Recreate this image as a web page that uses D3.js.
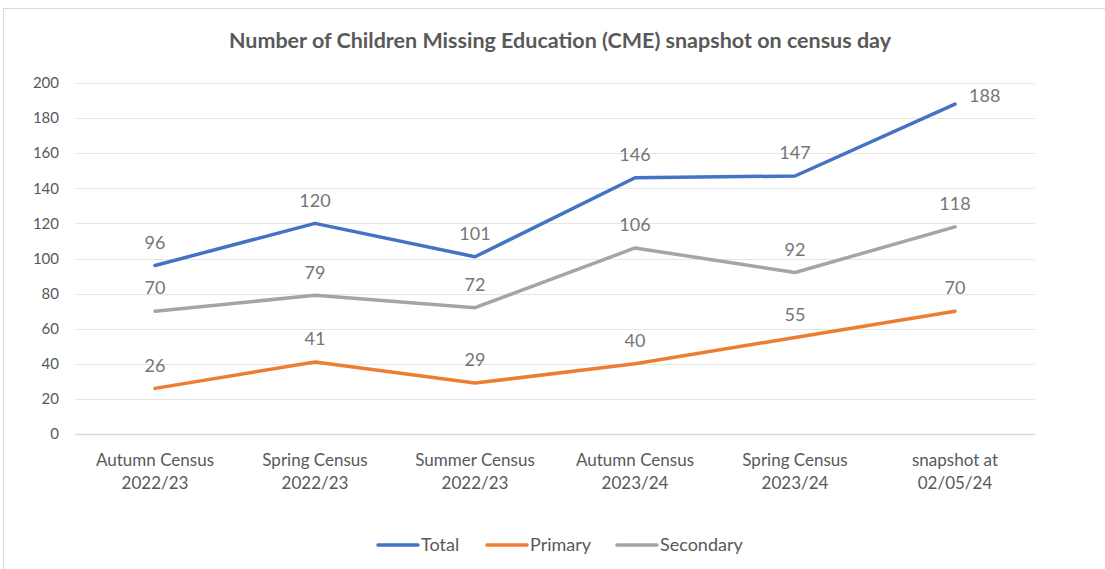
<meta charset="utf-8">
<style>
body { margin: 0; background: #fff; }
text { font-family: Lato, "Open Sans", sans-serif; fill: #595959; }
.line { fill: none; stroke-width: 3.5px; stroke-linecap: round; stroke-linejoin: round; }
</style>
<body>
<script src="https://d3js.org/d3.v7.js"></script>
<script>
var categories = [
  ["Autumn Census", "2022/23"],
  ["Spring Census", "2022/23"],
  ["Summer Census", "2022/23"],
  ["Autumn Census", "2023/24"],
  ["Spring Census", "2023/24"],
  ["snapshot at", "02/05/24"]
];
var total = [96, 120, 101, 146, 147, 188];
var primary = [26, 41, 29, 40, 55, 70];
var secondary = [70, 79, 72, 106, 92, 118];
var yTicks = [0, 20, 40, 60, 80, 100, 120, 140, 160, 180, 200];

var series = [
  {name: "Total", values: total, color: "#4472C4"},
  {name: "Primary", values: primary, color: "#ED7D31"},
  {name: "Secondary", values: secondary, color: "#A5A5A5"}
];

var W = 1105, H = 569;
var svg = d3.select("body").append("svg")
    .attr("width", W)
    .attr("height", H);

// chart border
svg.append("rect")
    .attr("x", 3.5).attr("y", 8.5)
    .attr("width", W + 10).attr("height", H + 10)
    .attr("fill", "#fff")
    .attr("stroke", "#d9d9d9");

var x = d3.scaleBand().domain(d3.range(categories.length)).range([75, 1035]);
var y = d3.scaleLinear().domain([0, 200]).range([434, 83]);

// gridlines
svg.append("g").selectAll("line")
    .data(yTicks)
  .enter().append("line")
    .attr("x1", 75).attr("x2", 1035)
    .attr("y1", function(d) { return Math.round(y(d)) + 0.5; })
    .attr("y2", function(d) { return Math.round(y(d)) + 0.5; })
    .attr("stroke", function(d) { return d === 0 ? "#d9d9d9" : "#e6e6e6"; })
    .attr("stroke-width", function(d) { return d === 0 ? 1.5 : 1; });

// y labels
svg.append("g").selectAll("text")
    .data(yTicks)
  .enter().append("text")
    .attr("x", 59)
    .attr("y", function(d) { return y(d); })
    .attr("dy", "0.35em")
    .attr("text-anchor", "end")
    .style("font-size", "15px")
    .text(function(d) { return d; });

// x labels
var xl = svg.append("g").selectAll("text")
    .data(categories)
  .enter().append("text")
    .attr("x", function(d, i) { return x(i) + x.bandwidth() / 2; })
    .attr("y", 466)
    .attr("text-anchor", "middle")
    .style("font-size", "17px");
xl.append("tspan")
    .attr("x", function(d, i) { return x(i) + x.bandwidth() / 2; })
    .text(function(d) { return d[0]; });
xl.append("tspan")
    .attr("x", function(d, i) { return x(i) + x.bandwidth() / 2; })
    .attr("dy", 23)
    .text(function(d) { return d[1]; });

var line = d3.line()
    .x(function(d, i) { return x(i) + x.bandwidth() / 2; })
    .y(function(d) { return y(d); });

series.forEach(function(s) {
  svg.append("path")
      .datum(s.values)
      .attr("class", "line")
      .style("stroke", s.color)
      .attr("d", line);
});

// data labels
series.forEach(function(s) {
  svg.append("g").selectAll("text")
      .data(s.values)
    .enter().append("text")
      .attr("x", function(d, i) {
        var cx = x(i) + x.bandwidth() / 2;
        return (s.name === "Total" && i === s.values.length - 1) ? cx + 14 : cx;
      })
      .attr("y", function(d, i) {
        return (s.name === "Total" && i === s.values.length - 1) ? y(d) - 8 : y(d) - 23;
      })
      .attr("dy", "0.35em")
      .attr("text-anchor", function(d, i) {
        return (s.name === "Total" && i === s.values.length - 1) ? "start" : "middle";
      })
      .style("font-size", "18px")
      .style("fill", "#767676")
      .text(function(d) { return d; });
});

// title
svg.append("text")
    .attr("x", 560)
    .attr("y", 40)
    .attr("dy", "0.35em")
    .attr("text-anchor", "middle")
    .style("font-size", "21.5px")
    .style("font-weight", "bold")
    .text("Number of Children Missing Education (CME) snapshot on census day");

// legend
var legX = [378, 487, 617];
series.forEach(function(s, i) {
  var g = svg.append("g").attr("transform", "translate(" + legX[i] + ",545)");
  g.append("line")
      .attr("x1", 0).attr("x2", 40)
      .attr("stroke", s.color)
      .attr("stroke-width", 3.5)
      .attr("stroke-linecap", "round");
  g.append("text")
      .attr("x", 43)
      .attr("dy", "0.35em")
      .style("font-size", "18px")
      .text(s.name);
});
</script>
</body>
